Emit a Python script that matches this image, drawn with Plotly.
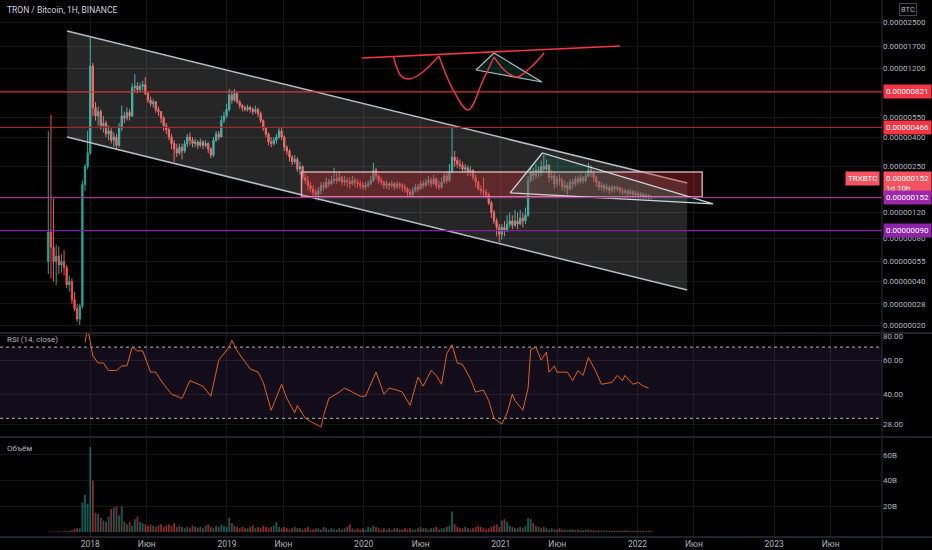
import math
import pandas as pd
import plotly.graph_objects as go
from plotly.subplots import make_subplots

# ---------------- data (prices in satoshi = 1e-8 BTC, weekly candles) ----------------
start_date = "2017-09-11"
first_open = 55
close = [
    88, 69, 55, 60, 52, 55, 50, 38, 40, 30,
    26, 22, 27, 187, 250, 310, 1240, 640, 560, 600,
    480, 500, 420, 440, 380, 400, 350, 460, 560, 540,
    590, 560, 880, 900, 850, 900, 920, 800, 720, 680,
    700, 620, 600, 540, 480, 450, 400, 360, 330, 310,
    340, 320, 360, 400, 380, 360, 370, 350, 370, 350,
    360, 330, 300, 380, 420, 400, 520, 560, 620, 780,
    720, 800, 700, 660, 640, 620, 640, 620, 600, 620,
    580, 520, 460, 420, 370, 360, 380, 400, 440, 400,
    340, 320, 290, 270, 280, 240, 250, 210, 200, 185,
    175, 165, 160, 170, 185, 180, 195, 190, 200, 205,
    200, 210, 195, 200, 195, 190, 200, 195, 190, 185,
    180, 185, 190, 200, 235, 215, 200, 195, 185, 190,
    185, 190, 180, 190, 185, 180, 175, 165, 160, 170,
    180, 175, 190, 185, 195, 200, 190, 205, 185, 180,
    195, 215, 200, 230, 290, 275, 260, 255, 240, 245,
    230, 235, 210, 195, 175, 170, 165, 160, 140, 120,
    105, 95, 85, 95, 90, 100, 105, 98, 105, 100,
    110, 105, 115, 200, 230, 215, 235, 225, 250, 240,
    255, 210, 215, 190, 205, 200, 180, 185, 175, 195,
    190, 205, 195, 210, 200, 215, 235, 225, 210, 195,
    180, 185, 175, 180, 170, 180, 175, 178, 170, 165,
    170, 162, 168, 160, 163, 158, 160, 155, 158, 153,
    152,
]
high = [
    440, 570, 150, 72, 70, 62, 66, 52, 44, 42,
    34, 28, 28, 200, 260, 440, 1980, 1300, 700, 650,
    620, 560, 520, 480, 460, 430, 420, 500, 660, 600,
    640, 620, 940, 1090, 960, 950, 980, 1040, 820, 760,
    730, 710, 650, 600, 560, 500, 470, 420, 380, 360,
    360, 360, 380, 420, 430, 400, 390, 380, 390, 380,
    380, 370, 340, 400, 440, 440, 560, 600, 680, 860,
    840, 860, 820, 720, 680, 660, 670, 660, 640, 660,
    640, 600, 530, 470, 430, 400, 400, 420, 460, 470,
    410, 350, 330, 300, 300, 290, 270, 255, 225, 215,
    195, 185, 175, 180, 195, 195, 210, 205, 215, 245,
    225, 230, 215, 215, 210, 210, 215, 210, 205, 200,
    195, 195, 200, 215, 265, 245, 220, 210, 200, 200,
    195, 200, 195, 198, 195, 192, 190, 180, 175, 180,
    190, 190, 200, 200, 205, 215, 210, 220, 210, 200,
    210, 225, 230, 260, 470, 320, 290, 280, 270, 260,
    255, 250, 240, 220, 200, 185, 210, 175, 165, 145,
    125, 110, 100, 100, 105, 115, 120, 115, 125, 120,
    125, 120, 130, 215, 250, 245, 260, 250, 275, 300,
    280, 260, 235, 225, 215, 220, 210, 200, 195, 205,
    205, 215, 215, 220, 215, 225, 265, 255, 235, 215,
    200, 195, 190, 190, 185, 188, 185, 185, 182, 178,
    176, 175, 175, 172, 170, 168, 167, 165, 163, 160,
    157,
]
low = [
    45, 42, 40, 38, 45, 46, 44, 36, 34, 28,
    25, 21, 20, 26, 170, 240, 300, 560, 520, 480,
    450, 430, 400, 380, 360, 340, 330, 340, 440, 500,
    520, 520, 550, 820, 800, 820, 840, 780, 690, 650,
    640, 590, 560, 500, 440, 420, 380, 330, 270, 290,
    300, 280, 310, 340, 350, 340, 340, 330, 340, 330,
    340, 310, 285, 290, 370, 380, 400, 500, 540, 600,
    680, 700, 680, 630, 600, 600, 600, 590, 570, 580,
    550, 500, 440, 400, 350, 340, 350, 360, 390, 380,
    320, 300, 270, 255, 260, 230, 220, 200, 190, 170,
    165, 155, 148, 145, 160, 170, 175, 180, 185, 190,
    190, 195, 185, 185, 180, 175, 185, 180, 178, 175,
    172, 172, 178, 185, 195, 205, 190, 185, 175, 175,
    172, 178, 170, 175, 175, 168, 165, 155, 152, 155,
    165, 165, 172, 175, 180, 185, 180, 185, 175, 172,
    175, 190, 190, 195, 225, 250, 245, 240, 230, 225,
    215, 215, 200, 180, 170, 160, 155, 150, 135, 110,
    100, 82, 75, 78, 82, 88, 95, 92, 95, 92,
    98, 95, 100, 112, 195, 200, 205, 210, 215, 225,
    230, 195, 200, 175, 180, 185, 170, 165, 158, 170,
    175, 180, 185, 190, 190, 195, 210, 210, 195, 180,
    170, 170, 165, 168, 160, 165, 165, 168, 162, 158,
    160, 155, 158, 152, 154, 150, 152, 150, 150, 148,
    148,
]
volume_b = [
    0.3, 0.5, 0.4, 0.5, 0.6, 0.5, 0.7, 0.8, 1.0, 1.5, 2.5, 3.0,
    3, 23, 29, 22, 66, 40,
    15, 14, 11, 9, 8, 12, 18, 19, 20, 13, 20, 8, 6, 8, 5, 10, 12, 8,
    7, 6, 5, 6, 5, 4, 5, 6, 4, 5, 6, 5, 7, 4, 5, 4, 3,
    4, 3, 5, 4, 3, 4, 3, 5, 6, 4, 3, 5, 4, 6, 5, 4,
    11, 7, 5, 4,
    3, 4, 3, 3, 4, 5, 3, 4, 3, 5, 4, 3, 4, 5, 8, 4, 3, 4,
    3, 2, 3, 4, 3, 3, 2, 3, 4, 2, 2, 3, 3, 2, 4, 3, 2, 3, 2, 2, 3, 2, 3, 4, 6, 3, 2,
    3, 2, 3, 2, 4, 3, 5, 4, 3, 2, 3, 2, 3, 2, 3, 3, 2, 2, 3, 2, 3, 2, 2, 3, 4, 3, 3, 2, 3, 3, 4, 2, 3,
    3, 4, 5, 16, 6, 4, 3, 3, 4, 3,
    2, 3, 4, 5, 4, 3, 2, 3, 4, 5, 6, 4, 9, 10, 8, 5, 4, 3, 3, 4, 3, 5,
    11, 10, 7, 5, 4, 3, 4, 3, 2, 3, 2, 2, 3,
    2, 2, 1.5, 2, 2, 1.5, 2, 1.5, 1.5, 2, 2, 1.5, 1.5, 1.2, 1.2, 1.2, 1, 1.2, 1, 1,
    1.2, 1, 1, 1, 1.2, 1, 1, 1, 1, 0.9, 1, 0.9, 0.9, 0.8, 0.8,
]
rsi_idx = [14, 15, 17, 19, 21, 23, 26, 28, 30, 32, 34, 36, 39, 41, 43, 47, 51, 54, 59, 62,
           65, 69, 70, 72, 77, 80, 82, 85, 89, 91, 94, 95, 98, 104, 105, 107, 111, 113, 116, 119,
           121, 125, 128, 130, 133, 135, 138, 141, 143, 146, 148, 150, 152, 154, 156, 158, 161, 163, 166, 168,
           170, 173, 175, 177, 178, 181, 183, 184, 186, 188, 190, 191, 193, 194, 198, 200, 202, 204, 206, 209,
           211, 215, 217, 219, 220, 223, 225, 227, 229]
rsi_val = [74, 88, 63, 58, 58, 53, 53, 56, 56, 70, 67, 67, 52, 52, 47, 40, 38, 47, 44, 39,
           60, 70, 76, 67, 54, 52, 46, 33, 45, 38, 32, 35, 30, 27, 31, 38, 41, 43, 41, 39,
           39, 52, 40, 43, 42, 41, 35, 49, 44, 53, 50, 45, 65, 72, 58, 57, 48, 41, 42, 37,
           30, 28, 32, 40, 37, 33, 43, 68, 70, 60, 66, 52, 56, 52, 52, 47, 53, 50, 62, 52,
           45, 46, 50, 47, 50, 45, 46, 44, 43]

# drawings anchored on (date, price in satoshi)
channel_top = [("2017-10-31", 2167), ("2022-05-14", 192)]
channel_bottom = [("2017-10-31", 400), ("2022-05-14", 34.9)]
zone_box = [("2019-07-19", 154), ("2022-06-23", 229)]
triangle_big = [("2021-01-26", 164), ("2021-04-22", 310), ("2022-07-22", 137.6)]
neck_line = [("2019-12-27", 1409), ("2021-11-16", 1706)]
curve_segments = [
    [("2020-03-20", 1455), ("2020-04-10", 1058), ("2020-05-01", 1008), ("2020-05-31", 1092), ("2020-07-20", 1455)],
    [("2020-07-20", 1455), ("2020-08-27", 846), ("2020-10-06", 615), ("2020-11-15", 992), ("2020-12-14", 1432)],
    [("2020-12-14", 1432), ("2021-01-13", 1145), ("2021-02-14", 1041), ("2021-03-20", 1201), ("2021-04-27", 1526)],
]
triangle_small = [("2020-10-27", 1163), ("2020-12-14", 1526), ("2021-04-21", 961)]
levels = [821, 466, 152, 90]
level_line_colors = ["#d43b3b", "#9b2c2c", "#a3308f", "#7f22a0"]
level_box_colors = ["#f23645", "#f23645", "#9c27a8", "#8e24aa"]
last_price = 152
last_label_price = 190

price_ticks = [20, 28, 40, 55, 80, 120, 250, 400, 550, 1200, 1700, 2500, 3500]
rsi_ticks = [28, 40, 60, 80]
vol_ticks = [20, 40, 60]
x_tick_dates = ["2018-01-01", "2018-06-01", "2019-01-01", "2019-06-01", "2020-01-01", "2020-06-01",
                "2021-01-01", "2021-06-01", "2022-01-01", "2022-06-01", "2023-01-01", "2023-06-01"]
x_tick_text = ["2018", "Июн", "2019", "Июн", "2020", "Июн", "2021", "Июн", "2022", "Июн", "2023", "Июн"]

# ---------------- layout geometry ----------------
X_RANGE = ["2017-05-05", "2023-10-16"]
MAIN_R = [1.2457, 3.5502]
RSI_R = [math.log10(24.0), math.log10(82.9)]
VOL_R = [-3.8, 73.8]
D_MAIN = [0.3799, 1.0]
D_RSI = [0.1862, 0.3799]
D_VOL = [0.0, 0.1862]

BG = "#000000"
GRID = "#151515"
SEP = "#2a2e39"
TXT = "#b2b5be"
UP = "#26a69a"
DN = "#ef5350"
FONT = "Roboto"

dates = pd.date_range(start_date, periods=len(close), freq="7D")
opens = [first_open] + close[:-1]

fig = make_subplots(rows=3, cols=1, shared_xaxes=True, vertical_spacing=0)

def xs(pts):
    return [p[0] for p in pts]

def ys(pts):
    return [p[1] for p in pts]

# channel fill
poly = channel_top + channel_bottom[::-1] + channel_top[:1]
fig.add_trace(go.Scatter(x=xs(poly), y=ys(poly), mode="lines", line=dict(width=0),
                         fill="toself", fillcolor="rgba(255,255,255,0.15)", hoverinfo="skip"), 1, 1)
for edge in (channel_top, channel_bottom):
    fig.add_trace(go.Scatter(x=xs(edge), y=ys(edge), mode="lines",
                             line=dict(color="#b8bbc4", width=1.5), hoverinfo="skip"), 1, 1)

# zone rectangle
(bx0, by0), (bx1, by1) = zone_box
fig.add_trace(go.Scatter(x=[bx0, bx1, bx1, bx0, bx0], y=[by0, by0, by1, by1, by0], mode="lines",
                         line=dict(color="rgba(235,190,195,0.85)", width=1.5),
                         fill="toself", fillcolor="rgba(190,45,50,0.38)", hoverinfo="skip"), 1, 1)

# big triangle
tri = triangle_big + triangle_big[:1]
fig.add_trace(go.Scatter(x=xs(tri), y=ys(tri), mode="lines",
                         line=dict(color="#d1d4dc", width=1.3),
                         fill="toself", fillcolor="rgba(8,153,129,0.18)", hoverinfo="skip"), 1, 1)

# horizontal levels
for v, c in zip(levels, level_line_colors):
    fig.add_trace(go.Scatter(x=X_RANGE, y=[v, v], mode="lines", line=dict(color=c, width=1.2),
                             hoverinfo="skip"), 1, 1)

# candles
fig.add_trace(go.Candlestick(x=dates, open=opens, high=high, low=low, close=close,
                             increasing=dict(line=dict(color=UP, width=1), fillcolor=UP),
                             decreasing=dict(line=dict(color=DN, width=1), fillcolor=DN),
                             whiskerwidth=0, hoverinfo="skip"), 1, 1)

# top pattern drawing
tri_s = triangle_small + triangle_small[:1]
fig.add_trace(go.Scatter(x=xs(tri_s), y=ys(tri_s), mode="lines",
                         line=dict(color="#b2b5be", width=1.2),
                         fill="toself", fillcolor="rgba(8,153,129,0.2)", hoverinfo="skip"), 1, 1)
fig.add_trace(go.Scatter(x=xs(neck_line), y=ys(neck_line), mode="lines",
                         line=dict(color="#f23645", width=1.6), hoverinfo="skip"), 1, 1)
for seg in curve_segments:
    fig.add_trace(go.Scatter(x=xs(seg), y=ys(seg), mode="lines",
                             line=dict(color="#f23645", width=1.4, shape="spline", smoothing=1.0),
                             hoverinfo="skip"), 1, 1)

# RSI pane
fig.add_trace(go.Scatter(x=[X_RANGE[0], X_RANGE[1], X_RANGE[1], X_RANGE[0], X_RANGE[0]],
                         y=[30, 30, 70, 70, 30], mode="lines", line=dict(width=0),
                         fill="toself", fillcolor="rgba(126,87,194,0.14)", hoverinfo="skip"), 2, 1)
for lv in (30, 70):
    fig.add_trace(go.Scatter(x=X_RANGE, y=[lv, lv], mode="lines",
                             line=dict(color="rgba(190,190,200,0.75)", width=1.2, dash="3px,3px"),
                             hoverinfo="skip"), 2, 1)
fig.add_trace(go.Scatter(x=[dates[i] for i in rsi_idx], y=rsi_val, mode="lines",
                         line=dict(color="#e2611c", width=1), hoverinfo="skip"), 2, 1)

# volume pane
vcol = ["rgba(38,166,154,0.55)" if c >= o else "rgba(239,83,80,0.55)" for o, c in zip(opens, close)]
fig.add_trace(go.Bar(x=dates, y=volume_b, marker=dict(color=vcol, line=dict(width=0)),
                     hoverinfo="skip"), 3, 1)

# ---------------- axes ----------------
fig.update_xaxes(range=X_RANGE, type="date", showgrid=True, gridcolor=GRID, gridwidth=1,
                 tickvals=x_tick_dates, ticktext=x_tick_text, zeroline=False, automargin=False,
                 showline=False, rangeslider_visible=False, fixedrange=True)
fig.update_xaxes(showticklabels=False, row=1, col=1)
fig.update_xaxes(showticklabels=False, row=2, col=1)
fig.update_xaxes(showticklabels=True, tickfont=dict(family=FONT, size=8.5, color=TXT), ticks="",
                 row=3, col=1)

fig.update_yaxes(side="right", showgrid=True, gridcolor=GRID, zeroline=False, ticks="", automargin=False,
                 tickfont=dict(family=FONT, size=8, color=TXT), fixedrange=True, showline=False)
fig.update_yaxes(type="log", range=MAIN_R, domain=D_MAIN, tickvals=price_ticks,
                 ticktext=[f"{v / 1e8:.8f}" for v in price_ticks], row=1, col=1)
fig.update_yaxes(type="log", range=RSI_R, domain=D_RSI, tickvals=rsi_ticks,
                 ticktext=[f"{v:.2f}" for v in rsi_ticks], row=2, col=1)
fig.update_yaxes(range=VOL_R, domain=D_VOL, tickvals=vol_ticks,
                 ticktext=[f"{v}B" for v in vol_ticks], row=3, col=1)

def main_paper(v):
    return D_MAIN[0] + (math.log10(v) - MAIN_R[0]) / (MAIN_R[1] - MAIN_R[0]) * (D_MAIN[1] - D_MAIN[0])

ann = []
def box(text, v, bg, anchor="left", shift=1, size=8):
    ann.append(dict(xref="paper", yref="paper", x=1, y=main_paper(v), xanchor=anchor, yanchor="middle",
                    xshift=shift, text=text, showarrow=False, bgcolor=bg, borderpad=2, align="left",
                    font=dict(family=FONT, size=size, color="#ffffff")))

for v, c in zip(levels[:2], level_box_colors[:2]):
    box(f"{v / 1e8:.8f}", v, c)
box(f"{last_price / 1e8:.8f}<br>1d 10h", last_label_price, "#f7525f")
box("TRXBTC", 208, "#f7525f", anchor="right", shift=-2)
for v, c in zip(levels[2:], level_box_colors[2:]):
    box(f"{v / 1e8:.8f}", v, c)

ann.append(dict(xref="paper", yref="paper", x=1, y=0.983, xanchor="center", yanchor="middle", xshift=26,
                text="BTC", showarrow=False, bordercolor="#434651", borderwidth=1, borderpad=1,
                bgcolor=BG, font=dict(family=FONT, size=7.5, color=TXT)))
ann.append(dict(xref="paper", yref="paper", x=0.0057, y=0.9814, xanchor="left", yanchor="middle",
                text="TRON / Bitcoin, 1H, BINANCE", showarrow=False,
                font=dict(family=FONT, size=8.5, color="#d1d4dc")))
ann.append(dict(xref="paper", yref="paper", x=0.0057, y=0.3669, xanchor="left", yanchor="middle",
                text="RSI (14, close)", showarrow=False, font=dict(family=FONT, size=8, color=TXT)))
ann.append(dict(xref="paper", yref="paper", x=0.0057, y=0.1657, xanchor="left", yanchor="middle",
                text="Объём", showarrow=False, font=dict(family=FONT, size=8, color=TXT)))

shapes = []
for yv in (D_MAIN[0], D_RSI[0], 0):
    shapes.append(dict(type="line", xref="paper", yref="paper", x0=0, x1=1.06, y0=yv, y1=yv,
                       line=dict(color=SEP, width=1.5)))
shapes.append(dict(type="line", xref="paper", yref="paper", x0=1, x1=1, y0=-0.03, y1=1,
                   line=dict(color=SEP, width=1)))

fig.update_layout(width=932, height=550, margin=dict(l=0, r=50, t=0, b=13, autoexpand=False),
                  paper_bgcolor=BG, plot_bgcolor=BG, showlegend=False, hovermode=False,
                  bargap=0.3, annotations=ann, shapes=shapes,
                  font=dict(family=FONT, color=TXT))

fig.write_html("out.html", config={"displayModeBar": False},
               post_script="document.body.style.margin='0';document.body.style.background='#000';")
